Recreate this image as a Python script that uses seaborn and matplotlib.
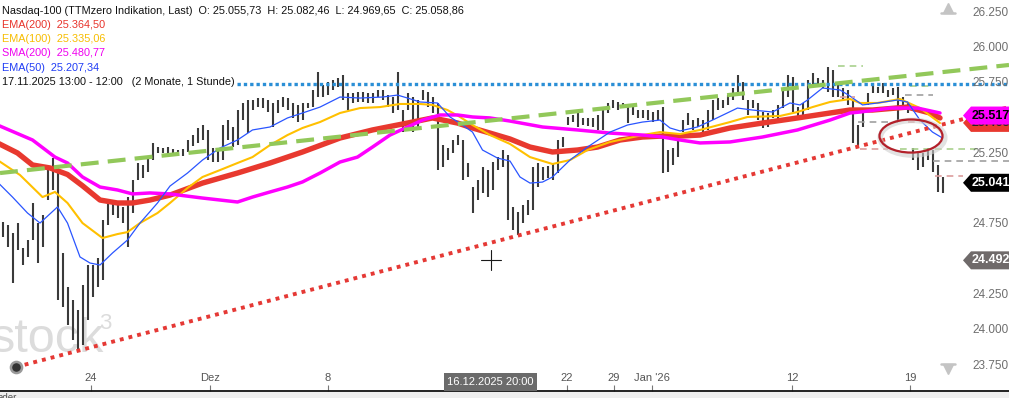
import numpy as np
import pandas as pd
import matplotlib
matplotlib.use("Agg")
import matplotlib.pyplot as plt
import seaborn as sns
from matplotlib.patches import Polygon, Ellipse, Rectangle
from matplotlib.transforms import IdentityTransform, blended_transform_factory

# ---------------- data ----------------
bar_high = [
    24763, 24742, 24685, 24756, 24579, 24636, 24898, 24756, 24813, 25131,
    25216, 25167, 24544, 24303, 24211, 24140, 24317, 24459, 24459, 24508,
    24777, 24919, 24919, 24884, 24869, 24940, 25061, 25181, 25167, 25216,
    25323, 25294, 25287, 25294, 25280, 25273, 25280, 25344, 25379, 25429,
    25450, 25415, 25287, 25273, 25450, 25485, 25436, 25556, 25606, 25627,
    25627, 25641, 25641, 25627, 25606, 25627, 25648, 25641, 25606, 25592,
    25606, 25606, 25698, 25825, 25733, 25754, 25769, 25783, 25804, 25677,
    25677, 25684, 25684, 25677, 25677, 25698, 25698, 25662, 25648, 25825,
    25556, 25677, 25648, 25627, 25698, 25684, 25648, 25606, 25308, 25287,
    25344, 25379, 25344, 25181, 25011, 25061, 25153, 25131, 25188, 25223,
    25273, 25238, 24869, 24834, 24884, 24919, 25153, 25181, 25153, 25160,
    25181, 25344, 25365, 25507, 25521, 25535, 25500, 25500, 25500, 25521,
    25577, 25606, 25627, 25613, 25606, 25577, 25577, 25556, 25556, 25556,
    25542, 25556, 25577, 25273, 25287, 25344, 25485, 25535, 25485, 25500,
    25485, 25556, 25627, 25641, 25627, 25662, 25712, 25804, 25754, 25627,
    25627, 25606, 25542, 25535, 25556, 25592, 25698, 25804, 25790, 25577,
    25606, 25769, 25818, 25783, 25769, 25861, 25839, 25747, 25712, 25698,
    25627, 25450, 25556, 25677, 25747, 25719, 25747, 25698, 25712, 25719,
    25648, 25606, 25287, 25252, 25252, 25287, 25273, 25167, 25082,
]
bar_low = [
    24657, 24586, 24331, 24565, 24459, 24515, 24636, 24473, 24586, 24919,
    24990, 24211, 24161, 24034, 23928, 23843, 23892, 24069, 24232, 24303,
    24353, 24742, 24813, 24792, 24756, 24586, 24827, 25061, 25075, 25117,
    25202, 25252, 25252, 25245, 25245, 25238, 25231, 25259, 25301, 25323,
    25344, 25202, 25188, 25188, 25202, 25344, 25294, 25308, 25485, 25393,
    25556, 25577, 25570, 25542, 25436, 25535, 25577, 25556, 25500, 25471,
    25485, 25570, 25577, 25648, 25648, 25662, 25698, 25719, 25627, 25556,
    25606, 25613, 25613, 25606, 25606, 25648, 25627, 25577, 25535, 25556,
    25400, 25556, 25400, 25436, 25627, 25577, 25535, 25131, 25153, 25202,
    25252, 25308, 25061, 25082, 24827, 24919, 24969, 24940, 24990, 25131,
    25153, 24777, 24707, 24671, 24756, 24813, 24848, 25011, 25061, 25075,
    25061, 25110, 25294, 25450, 25471, 25436, 25450, 25443, 25436, 25415,
    25415, 25535, 25570, 25556, 25570, 25464, 25521, 25500, 25500, 25485,
    25471, 25485, 25110, 25117, 25167, 25223, 25400, 25450, 25415, 25436,
    25400, 25415, 25485, 25556, 25570, 25592, 25627, 25677, 25627, 25521,
    25570, 25485, 25429, 25436, 25500, 25485, 25570, 25648, 25542, 25500,
    25521, 25556, 25719, 25719, 25712, 25684, 25648, 25648, 25627, 25592,
    25323, 25287, 25436, 25592, 25677, 25677, 25677, 25648, 25662, 25471,
    25556, 25535, 25202, 25131, 25153, 25202, 25117, 24976, 24970,
]

sma200_t = [-1, 6, 10.5, 13, 16, 19.5, 23, 26, 29.5, 33.5, 40, 47, 50, 53.5, 57, 60, 63.5, 67.5, 71, 74,
            77.5, 81, 84, 87.5, 91, 94, 97.5, 101.5, 108, 115, 121.5, 128, 132, 135.5, 139.5, 145.5, 152,
            159, 165.5, 169.5, 171.5, 177.5, 183, 187.5]
sma200_v = [25450, 25344, 25223, 25181, 25082, 25011, 24990, 24962, 24969, 24962, 24933, 24905, 24940,
            24976, 25011, 25047, 25110, 25188, 25223, 25294, 25379, 25436, 25485, 25521, 25521, 25507,
            25500, 25478, 25436, 25415, 25393, 25379, 25365, 25344, 25323, 25330, 25365, 25415, 25485,
            25535, 25542, 25570, 25570, 25535]

ema200_t = [-1, 3, 6, 9.5, 13, 16, 19.5, 23, 26, 29.5, 33.5, 40, 47, 53.5, 60, 67.5, 74, 81, 86, 91,
            94, 97.5, 101.5, 105.5, 110, 115, 119, 123.5, 128, 132, 135.5, 139.5, 145.5, 152, 159, 165.5,
            169.5, 174, 181, 185.5, 187.5]
ema200_v = [25323, 25252, 25167, 25146, 25100, 25020, 24919, 24898, 24898, 24919, 24954, 25039, 25110,
            25181, 25259, 25358, 25415, 25464, 25500, 25464, 25429, 25393, 25351, 25294, 25259, 25273,
            25294, 25344, 25365, 25372, 25372, 25379, 25429, 25464, 25500, 25535, 25556, 25556, 25577,
            25535, 25500]

ema100_t = [-1, 3.5, 8, 10.5, 13, 16, 20, 23, 25, 27.5, 31, 33.5, 37, 40, 43.5, 47, 50, 53.5, 57, 60,
            63.5, 67.5, 71.5, 75.5, 79.5, 83.5, 86, 89, 91.5, 94, 97.5, 101.5, 105.5, 110, 113.5, 117,
            121.5, 128, 131.5, 135.5, 139.5, 145.5, 149, 155.5, 159, 162, 165.5, 169.5, 171.5, 175,
            179.5, 183.5, 187.5]
ema100_v = [25202, 25096, 24940, 24976, 24898, 24756, 24650, 24678, 24692, 24756, 24827, 24898, 25004,
            25082, 25131, 25181, 25223, 25308, 25379, 25429, 25471, 25535, 25570, 25577, 25599, 25599,
            25592, 25556, 25507, 25450, 25379, 25316, 25223, 25174, 25202, 25273, 25330, 25379, 25400,
            25386, 25415, 25471, 25507, 25514, 25542, 25577, 25613, 25634, 25606, 25606, 25634, 25570,
            25464]

ema50_t = [-1, 2, 5, 7.5, 11, 13, 15.5, 17.5, 19.5, 22, 25, 27.5, 31, 33.5, 37, 40, 43.5, 47, 50, 53.5,
           57, 60, 63.5, 67.5, 71.5, 76, 79, 81, 83.5, 87, 89.5, 92, 94, 96, 99, 101.5, 103.5, 105.5,
           108, 110, 113.5, 117, 121.5, 125, 128, 131.5, 133.5, 135.5, 139, 142, 147, 150, 154, 157.5,
           159.5, 161, 164, 167.5, 169.5, 172, 175, 179, 181, 183.5, 186, 188]
ema50_v = [25046, 24940, 24827, 24756, 24870, 24756, 24516, 24473, 24459, 24544, 24636, 24756, 24898,
           25018, 25110, 25202, 25287, 25344, 25415, 25436, 25500, 25535, 25577, 25648, 25641, 25648,
           25662, 25641, 25613, 25606, 25507, 25450, 25400, 25273, 25216, 25195, 25082, 25039, 25046,
           25082, 25202, 25294, 25400, 25450, 25471, 25485, 25429, 25408, 25436, 25485, 25570, 25556,
           25542, 25606, 25592, 25627, 25712, 25698, 25655, 25592, 25606, 25627, 25613, 25485, 25400,
           25358]

x_tick_pos = [17.7, 41.5, 65.1, 112.9, 122.3, 129.9, 157.9, 181.5]
x_tick_labels = ["24", "Dez", "8", "22", "29", "Jan '26", "12", "19"]
# price-axis labels that are not hidden behind a price tag in the reference
y_tick_values = [26250, 26000, 25750, 25250, 24750, 24250, 24000, 23750]
y_tick_labels = ["26.250,00", "26.000,00", "25.750,00", "25.250,00",
                 "24.750,00", "24.250,00", "24.000,00", "23.750,00"]

resistance_price = 25740
resistance_t = [46.9, 201.3]
green_trend_t = [-0.5, 201.3]
green_trend_v = [25110, 25875]
red_trend_t = [2.7, 201.3]
red_trend_v = [23737, 25577]

level_price = [25868, 25726, 25662, 25648, 25471, 25471, 25280, 25280, 25195, 25089]
level_start = [167, 181.5, 180.5, 167.5, 171, 181, 171.5, 179.5, 186, 186.5]
level_end = [172, 186, 186, 170.5, 179, 183.5, 177, 195.5, 201.3, 192]
level_kind = ["g", "g", "k", "r", "k", "r", "r", "g", "k", "r"]

tag_prices = [25465, 25517, 25041, 24492]
tag_texts = ["25.465,", "25.517,", "25.041,", "24.492,"]

crosshair_t, crosshair_p = 97.7, 24494
crosshair_label = "16.12.2025 20:00"
ellipse_t, ellipse_p = 181.7, 25372

legend_rows = [
    ("Nasdaq-100 (TTMzero Indikation, Last)  O: 25.055,73  H: 25.082,46  L: 24.969,65  C: 25.058,86", "#111111"),
    ("EMA(200)  25.364,50", "#e8332a"),
    ("EMA(100)  25.335,06", "#f7bd00"),
    ("SMA(200)  25.480,77", "#f000f0"),
    ("EMA(50)  25.207,34", "#1f3cf5"),
    ("17.11.2025 13:00 - 12:00   (2 Monate, 1 Stunde)", "#111111"),
]

# ---------------- drawing ----------------
sns.set_theme(style="white")
plt.rcParams['font.family'] = ['Liberation Sans', 'DejaVu Sans']

W, H = 1009, 398
fig = plt.figure(figsize=(W / 100, H / 100), dpi=100)
fig.patch.set_facecolor("white")
ax = fig.add_axes([0, 7 / H, 1, 391 / H])
ax.set_facecolor("white")
ax.set_xlim(-0.5, 201.3)
ax.set_ylim(23567, 26335)

PX = IdentityTransform()


def py(y):
    return H - y


# watermark
ax.text(-9, py(352), "stock", transform=PX, fontsize=35, color="#dcdcdc",
        zorder=1, va="baseline", ha="left", clip_on=False)
ax.text(99, py(329), "3", transform=PX, fontsize=16, color="#dcdcdc",
        zorder=1, va="baseline", ha="left", clip_on=False)

# price bars
idx = np.arange(len(bar_high))
ax.vlines(idx, bar_low, bar_high, color="#3a3a3a", lw=1.5, zorder=2)

# moving averages
sns.lineplot(x=ema200_t, y=ema200_v, ax=ax, color="#e8392f", linewidth=3.9,
             sort=False, estimator=None, zorder=3, solid_capstyle="round")
sns.lineplot(x=ema100_t, y=ema100_v, ax=ax, color="#ffc000", linewidth=1.5,
             sort=False, estimator=None, zorder=4)
sns.lineplot(x=sma200_t, y=sma200_v, ax=ax, color="#ff00ff", linewidth=2.5,
             sort=False, estimator=None, zorder=5, solid_capstyle="round")
sns.lineplot(x=ema50_t, y=ema50_v, ax=ax, color="#2a55ff", linewidth=0.9,
             sort=False, estimator=None, zorder=6)

# drawings
ax.plot(resistance_t, [resistance_price] * 2, color="#2b8fd6", lw=2.4,
        dashes=(1, 0.9), dash_capstyle="butt", zorder=7)
ax.plot(green_trend_t, green_trend_v, color="#92c85a", lw=3.0,
        dashes=(4.3, 2.2), dash_capstyle="butt", zorder=8)
ax.plot(red_trend_t, red_trend_v, color="#e53935", lw=2.8,
        dashes=(1, 1.3), dash_capstyle="butt", zorder=8)
ax.plot([red_trend_t[0]], [red_trend_v[0]], "o", ms=8, mfc="#333333",
        mec="#9a9a9a", mew=1.8, zorder=9)

kind_color = {"g": "#a9d18e", "k": "#a0a0a0", "r": "#dc9c9c"}
for p, s, e, k in zip(level_price, level_start, level_end, level_kind):
    ax.plot([s, e], [p, p], color=kind_color[k], lw=1.2, dashes=(4, 3), zorder=6,
            clip_on=False)

# ellipse with soft shadow
ax.add_patch(Ellipse((ellipse_t + 0.3, ellipse_p - 12), 12.9, 245, fill=False,
                     ec="#cfcfcf", lw=4, alpha=0.6, zorder=9))
ax.add_patch(Ellipse((ellipse_t, ellipse_p), 12.6, 234, fill=False,
                     ec="#b3202a", lw=1.6, zorder=10))

# crosshair
ax.plot([crosshair_t - 2, crosshair_t + 2], [crosshair_p] * 2, color="k", lw=0.8, zorder=10)
ax.plot([crosshair_t] * 2, [crosshair_p - 71, crosshair_p + 71], color="k", lw=0.8, zorder=10)

# x axis
for s in ["top", "left", "right"]:
    ax.spines[s].set_visible(False)
ax.spines["bottom"].set_color("#111111")
ax.spines["bottom"].set_linewidth(1.3)
ax.set_xticks(x_tick_pos, x_tick_labels)
ax.tick_params(axis="x", bottom=True, direction="in", length=4, width=0.8,
               color="#777777", pad=-13, labelsize=8, labelcolor="#555555")
ax.set_yticks([])

# crosshair date label
ax.add_patch(Rectangle((444, py(391)), 93, 18, transform=PX, fc="#6b6b6b",
                       ec="none", zorder=11, clip_on=False))
ax.text(490.5, py(382), crosshair_label, transform=PX, color="white", fontsize=8,
        ha="center", va="center", zorder=12)

# right price labels
ytr = blended_transform_factory(PX, ax.transData)
for v, lab in zip(y_tick_values, y_tick_labels):
    ax.text(972, v, lab, transform=ytr, fontsize=8.5, color="#6e6e6e",
            ha="left", va="center", zorder=12, clip_on=False)

tag_fc = ["#e8392f", "#ff00ff", "#000000", "#6f6a6a"]
tag_tc = ["#222222", "#000000", "#ffffff", "#ffffff"]
half = 9 * 7.08
for k, (p, t, fc, tc) in enumerate(zip(tag_prices, tag_texts, tag_fc, tag_tc)):
    poly = Polygon([(963, p), (971, p + half), (1012, p + half), (1012, p - half), (971, p - half)],
                   closed=True, transform=ytr, fc=fc, ec="none", zorder=13 + 2 * k, clip_on=False)
    ax.add_patch(poly)
    ax.text(972, p, t, transform=ytr, fontsize=9, color=tc, fontweight="bold",
            ha="left", va="center", zorder=14 + 2 * k, clip_on=False)

# scroll arrows
ax.plot([948], [py(8)], marker="^", ms=7, color="#c4c4c4", transform=PX, clip_on=False, zorder=12)
ax.plot([941, 955], [py(13)] * 2, color="#c4c4c4", lw=1.8, transform=PX, clip_on=False, zorder=12)
ax.plot([948], [py(369)], marker="v", ms=7, color="#c4c4c4", transform=PX, clip_on=False, zorder=12)
ax.plot([941, 955], [py(364)] * 2, color="#c4c4c4", lw=1.8, transform=PX, clip_on=False, zorder=12)

# legend block
row_y = [11, 25, 39, 53, 68, 82]
for (txt, col), yy in zip(legend_rows, row_y):
    ax.text(2, py(yy), txt, transform=PX, fontsize=7.8, color=col, ha="left",
            va="center", zorder=25, clip_on=False)

# bottom strip
fig.add_artist(Rectangle((0, 0), 1, 6 / H, transform=fig.transFigure, fc="#efefef", ec="none"))
fig.text(-0.002, 0.0, "ader", fontsize=7, color="#555555", va="center", ha="left")

fig.savefig("out.png", dpi=100)
